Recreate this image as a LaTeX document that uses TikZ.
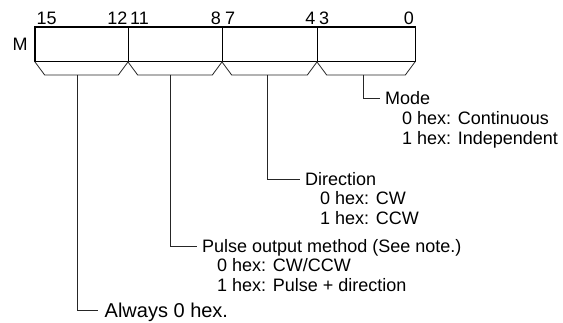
\documentclass[tikz,border=0pt]{standalone}
\usepackage{fontspec}
\setmainfont{Liberation Sans}
\usetikzlibrary{positioning,calc}
\tikzset{
  seg/.style={draw,line width=0.8pt,minimum height=34pt,inner sep=0pt},
  bitno/.style={inner sep=0pt},
  head/.style={anchor=west,inner xsep=5pt,inner ysep=0pt,text height=12.5pt,text depth=0pt},
  val/.style={anchor=west,inner sep=0pt,text height=12.5pt,text depth=0pt},
  link/.style={line width=0.8pt,black!85}
}

\begin{document}
\begin{tikzpicture}[x=1pt,y=-1pt,font=\fontsize{18}{21}\selectfont]
\useasboundingbox (0,0) rectangle (563,322);
% register word
\node[seg,minimum width=93pt] (seg1) at (81.5,44) {};
\node[seg,minimum width=94pt] (seg2) at (175,44) {};
\node[seg,minimum width=95pt] (seg3) at (269.5,44) {};
\node[seg,minimum width=98pt] (seg4) at (366,44) {};
\draw[line width=1.8pt] (seg1.north west) rectangle (seg4.south east);
\node (reg) at (20,44) {M};
% bit numbers
\node[bitno,anchor=base west] (b15) at (36.5,24.5) {15};
\node[bitno,anchor=base east] (b12) at (127.5,24.5) {12};
\node[bitno,anchor=base west] (b11) at (130,24.5) {11};
\node[bitno,anchor=base east] (b8) at (221,24.5) {8};
\node[bitno,anchor=base west] (b7) at (225,24.5) {7};
\node[bitno,anchor=base east] (b4) at (315.5,24.5) {4};
\node[bitno,anchor=base west] (b3) at (319,24.5) {3};
\node[bitno,anchor=base east] (b0) at (414,24.5) {0};
% braces under each digit
\draw[link] (seg1.south west) -- ++(10,13.5) -- ($(seg1.south east)+(-10,13.5)$) -- (seg1.south east);
\draw[link] (seg2.south west) -- ++(10,13.5) -- ($(seg2.south east)+(-10,13.5)$) -- (seg2.south east);
\draw[link] (seg3.south west) -- ++(10,13.5) -- ($(seg3.south east)+(-10,13.5)$) -- (seg3.south east);
\draw[link] (seg4.south west) -- ++(10,13.5) -- ($(seg4.south east)+(-10,13.5)$) -- (seg4.south east);
\coordinate (s1) at (77,74.5);
\coordinate (s2) at (170,74.5);
\coordinate (s3) at (267,74.5);
\coordinate (s4) at (363,74.5);
% descriptions
\node[head] (mode) at (380,98) {Mode};
\node[val] (mode0) at (402,118) {0 hex: Continuous};
\node[val] (mode1) at (402,138) {1 hex: Independent};
\node[head] (dir) at (300,179) {Direction};
\node[val] (dir0) at (320,198.5) {0 hex: CW};
\node[val] (dir1) at (320,218) {1 hex: CCW};
\node[head] (pulse) at (197,246) {Pulse output method (See note.)};
\node[val] (pulse0) at (217,265.5) {0 hex: CW/CCW};
\node[val] (pulse1) at (217,285) {1 hex: Pulse + direction};
\node[head,font=\fontsize{20}{24}\selectfont,text height=14pt,inner xsep=7pt] (always) at (97.5,310.5) {Always 0 hex.};
\draw[link] (s4) |- (mode.west);
\draw[link] (s3) |- (dir.west);
\draw[link] (s2) |- (pulse.west);
\draw[link] (s1) |- (always.west);
\end{tikzpicture}
\end{document}
